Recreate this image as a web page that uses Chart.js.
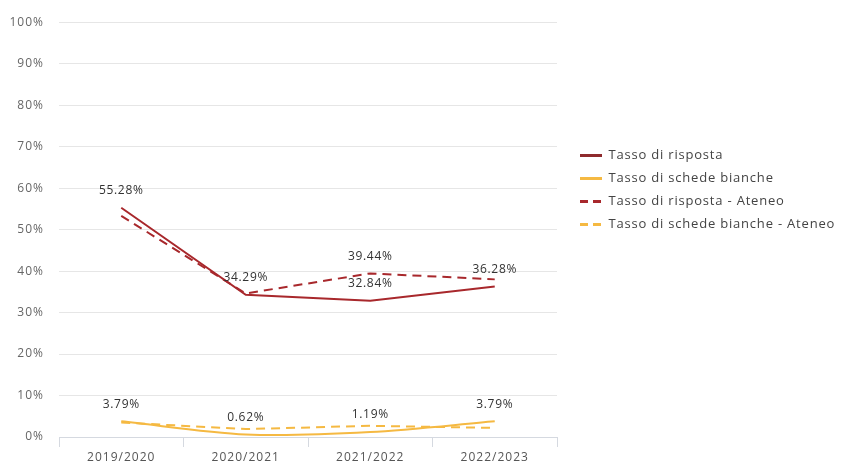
<!DOCTYPE html>
<html>
<head>
<meta charset="utf-8">
<script src="https://cdn.jsdelivr.net/npm/chart.js@4/dist/chart.umd.min.js"></script>
<style>
  html, body { margin: 0; padding: 0; background: #fff; }
  #wrap { width: 845px; height: 466px; position: relative; }
</style>
</head>
<body>
<div id="wrap"><canvas id="c"></canvas></div>
<script>
// ---- data ----
const categories = ['2019/2020', '2020/2021', '2021/2022', '2022/2023'];
const seriesNames = ['Tasso di risposta', 'Tasso di schede bianche', 'Tasso di risposta - Ateneo', 'Tasso di schede bianche - Ateneo'];
const tassoRisposta = [55.28, 34.29, 32.84, 36.28];
const tassoSchedeBianche = [3.79, 0.62, 1.19, 3.79];
const tassoRispostaAteneo = [53.3, 34.6, 39.44, 38.0];
const tassoSchedeBiancheAteneo = [3.5, 1.9, 2.7, 2.2];
// which points carry a value label
const labelsRisposta = [true, true, true, true];
const labelsSchedeBianche = [true, true, true, true];
const labelsRispostaAteneo = [false, false, true, false];
const labelsSchedeBiancheAteneo = [false, false, false, false];
const yTicks = [0, 10, 20, 30, 40, 50, 60, 70, 80, 90, 100];

const RED = '#a8282c';
const YELLOW = '#f5b942';
const FONT = "'Open Sans', 'DejaVu Sans', sans-serif";

const valueLabels = {
  id: 'valueLabels',
  afterDatasetsDraw(chart) {
    const ctx = chart.ctx;
    ctx.save();
    ctx.letterSpacing = '0.7px';
    ctx.font = '12px ' + FONT;
    ctx.fillStyle = '#333';
    ctx.textAlign = 'center';
    ctx.textBaseline = 'middle';
    chart.data.datasets.forEach((ds, i) => {
      const meta = chart.getDatasetMeta(i);
      meta.data.forEach((pt, j) => {
        if (ds.showLabels && ds.showLabels[j]) {
          ctx.fillText(ds.data[j].toFixed(2) + '%', pt.x, pt.y - 17);
        }
      });
    });
    ctx.restore();
  }
};

const legendPlace = {
  id: 'legendPlace',
  beforeInit(chart) {
    const lg = chart.legend;
    if (lg) {
      const origFit = lg.fit;
      lg.fit = function () { origFit.call(this); this.width = 288; };
      const origDraw = lg.draw;
      lg.draw = function () {
        const prev = this.ctx.letterSpacing;
        this.ctx.letterSpacing = '0.8px';
        origDraw.apply(this, arguments);
        this.ctx.letterSpacing = prev;
      };
    }
  },
  afterLayout(chart) {
    const lg = chart.legend;
    if (!lg) return;
    const w = lg.width, h = lg.height;
    lg.left = 570; lg.right = 570 + w;
    lg.top = 139; lg.bottom = 139 + h;
  },
  beforeDraw(chart) {
    chart.ctx.letterSpacing = '1px';
  }
};

new Chart(document.getElementById('c'), {
  type: 'line',
  data: {
    labels: categories,
    datasets: [
      { label: seriesNames[0], data: tassoRisposta, showLabels: labelsRisposta,
        borderColor: RED, backgroundColor: RED, borderWidth: 2, pointRadius: 0, tension: 0 },
      { label: seriesNames[1], data: tassoSchedeBianche, showLabels: labelsSchedeBianche,
        borderColor: YELLOW, backgroundColor: YELLOW, borderWidth: 2, pointRadius: 0, tension: 0.3 },
      { label: seriesNames[2], data: tassoRispostaAteneo, showLabels: labelsRispostaAteneo,
        borderColor: RED, backgroundColor: RED, borderWidth: 2, borderDash: [9, 6], pointRadius: 0, tension: 0 },
      { label: seriesNames[3], data: tassoSchedeBiancheAteneo, showLabels: labelsSchedeBiancheAteneo,
        borderColor: YELLOW, backgroundColor: YELLOW, borderWidth: 2, borderDash: [9, 6], pointRadius: 0, tension: 0 }
    ]
  },
  options: {
    responsive: true,
    maintainAspectRatio: false,
    animation: false,
    layout: { padding: { top: 18, bottom: 0, left: 0, right: 0 } },
    plugins: {
      tooltip: { enabled: false },
      legend: {
        position: 'right',
        align: 'start',
        labels: {
          font: { family: FONT, size: 13 },
          color: '#444',
          padding: 10,
          usePointStyle: true,
          pointStyle: 'line',
          pointStyleWidth: 22,
          generateLabels(chart) {
            return chart.data.datasets.map((ds, i) => ({
              text: ds.label,
              fillStyle: ds.borderColor,
              strokeStyle: i === 0 ? '#8e2a2d' : ds.borderColor,
              lineWidth: 3,
              lineDash: ds.borderDash ? [8, 5] : [],
              pointStyle: 'line',
              hidden: false,
              datasetIndex: i,
              fontColor: '#444'
            }));
          }
        }
      }
    },
    scales: {
      x: {
        offset: true,
        grid: { offset: true, drawOnChartArea: false, drawTicks: true, tickLength: 10, color: '#d5d9e0' },
        border: { color: '#d5d9e0' },
        ticks: { font: { family: FONT, size: 12 }, color: '#555', padding: 3 },
        afterFit(scale) { scale.height = 29; }
      },
      y: {
        min: 0, max: 100,
        afterBuildTicks(scale) { scale.ticks = yTicks.map(v => ({ value: v })); },
        grid: { color: '#e6e6e6', drawTicks: false },
        border: { display: false },
        ticks: { font: { family: FONT, size: 12 }, color: '#666', padding: 15, callback: v => v + '%' },
        afterFit(scale) { scale.width = 59; }
      }
    }
  },
  plugins: [valueLabels, legendPlace]
});
</script>
</body>
</html>
